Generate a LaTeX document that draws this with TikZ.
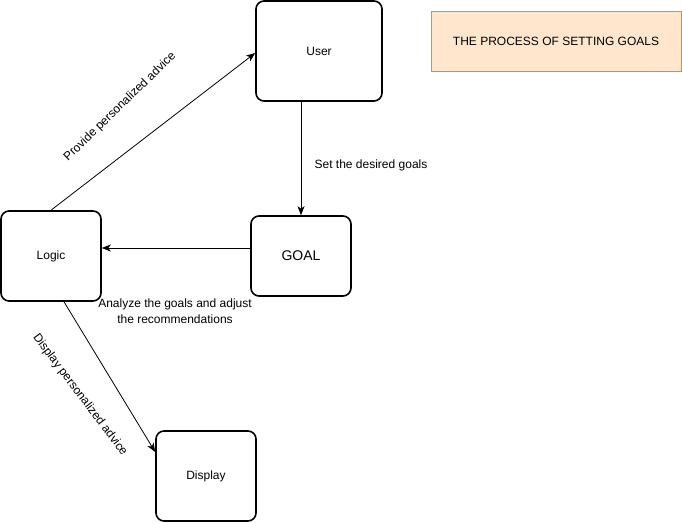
\documentclass[tikz,border=0pt]{standalone}
\usepackage{fontspec}
\setmainfont{Liberation Sans}
\usetikzlibrary{positioning, arrows.meta, calc}
\definecolor{titlefill}{HTML}{FFE6CC}
\definecolor{titledraw}{HTML}{D79B00}

\begin{document}
\begin{tikzpicture}[
    x=1pt, y=1pt,
    block/.style={rectangle, draw=black, line width=1.6pt, rounded corners=8pt,
                  minimum width=100pt, font=\fontsize{12}{14}\selectfont},
    heading/.style={rectangle, draw=titledraw, fill=titlefill, line width=0.9pt,
                    minimum width=250pt, minimum height=60pt, font=\fontsize{12}{14}\selectfont},
    lbl/.style={font=\fontsize{12}{16}\selectfont, align=center, inner sep=0pt},
    flow/.style={line width=0.8pt, -{Stealth[length=9pt, width=7pt, inset=2.5pt]}}
]
    \useasboundingbox (0,0) rectangle (682,522);

    % --- Boxes ---
    \node[block, minimum width=126pt, minimum height=100pt] (user) at (319,471) {User};
    \node[block, minimum height=80pt, font=\fontsize{14}{16}\selectfont] (goal) at (301,266) {GOAL};
    \node[block, minimum height=90pt] (logic) at (51,266) {Logic};
    \node[block, minimum height=90pt] (display) at (206,46) {Display};

    \node[heading] (title) at (556,481) {THE PROCESS OF SETTING GOALS};

    % --- Connectors ---
    \draw[flow] (logic.north) -- ([yshift=-2pt]user.west);
    \draw[flow] (user.south -| goal.north) -- (goal.north);
    \draw[flow] ([yshift=8pt]goal.west) -- ([yshift=8pt]logic.east);
    \draw[flow] ([xshift=13pt]logic.south) -- ([yshift=24pt]display.west);

    % --- Labels ---
    \node[lbl, rotate=44] (lprovide) at (120,415) {Provide personalized advice};
    \node[lbl] (lset) at (371,357) {Set the desired goals};
    \node[lbl] (lanalyze) at (175,211) {Analyze the goals and adjust\\the recommendations};
    \node[lbl, rotate=-53] (ldisplay) at (80,127) {Display personalized advice};

\end{tikzpicture}
\end{document}
